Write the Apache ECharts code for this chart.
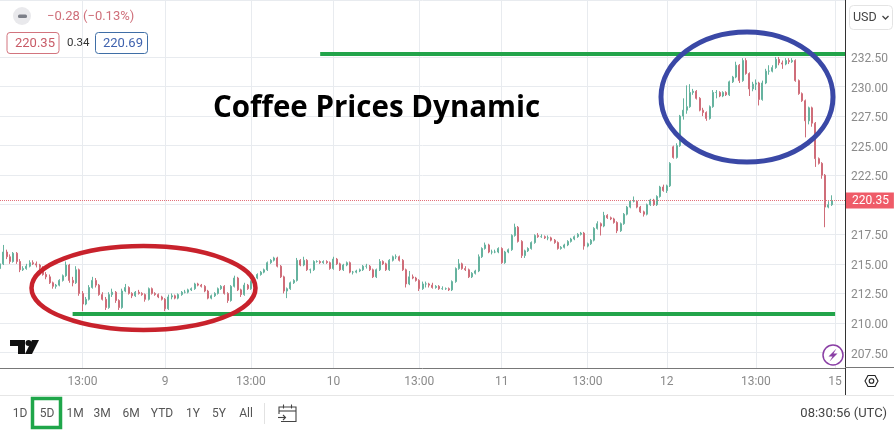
<!DOCTYPE html>
<html><head><meta charset="utf-8">
<style>html,body{margin:0;padding:0;background:#fff}#c{width:894px;height:432px}</style>
<script src="https://cdn.jsdelivr.net/npm/echarts@6/dist/echarts.min.js"></script>
</head><body><div id="c"></div>
<script>
const opens=[214.6,215.0,216.0,215.6,215.2,215.9,215.2,214.5,214.6,214.8,215.1,215.0,214.9,214.7,214.1,213.9,213.4,213.1,213.2,213.6,214.0,214.9,213.6,213.4,214.5,212.5,211.6,212.0,213.0,213.6,213.2,212.4,212.0,211.3,212.4,212.6,211.9,211.3,212.7,213.0,212.5,212.3,212.6,212.5,212.4,212.0,212.9,212.5,212.4,212.2,212.0,211.2,212.2,212.3,212.1,212.4,212.6,212.6,212.8,212.9,213.3,213.2,213.1,212.7,212.1,212.3,212.5,212.9,213.1,212.5,211.9,213.1,213.8,212.8,212.4,213.2,212.9,213.5,213.8,214.1,214.3,214.5,215.1,215.3,215.5,214.8,213.9,212.7,212.9,213.4,213.6,215.3,214.9,215.3,214.5,214.5,215.2,215.2,215.1,215.2,215.1,214.6,215.4,215.0,214.5,214.9,215.1,214.3,214.3,214.4,214.5,214.8,214.8,214.5,213.9,214.5,215.2,215.0,214.5,215.3,215.6,215.6,215.3,214.5,213.3,213.9,213.8,213.6,212.9,213.3,213.3,213.2,213.0,213.1,212.9,212.9,212.9,212.8,213.5,214.6,215.0,214.6,214.5,213.9,214.2,214.4,215.6,216.3,216.6,216.0,216.0,216.0,216.3,215.1,216.0,216.2,217.4,218.1,216.9,215.7,216.1,216.3,216.8,217.4,217.3,217.3,217.2,217.2,217.0,216.8,216.3,216.4,216.6,216.9,217.1,217.3,217.5,217.6,216.5,216.7,217.0,218.0,218.4,218.2,219.1,218.9,218.8,218.5,217.8,218.4,219.2,219.8,220.3,220.3,219.8,219.4,219.2,220.0,220.4,220.0,220.7,221.5,221.2,221.6,224.9,224.0,225.0,227.5,228.0,228.3,229.5,229.6,229.0,228.0,227.8,227.3,228.3,229.5,229.5,229.2,229.5,229.3,230.4,230.8,231.8,230.5,232.2,231.1,229.8,230.2,230.3,228.9,230.3,231.3,231.3,231.6,232.3,232.0,231.9,232.2,232.1,232.2,230.5,229.4,228.8,227.1,228.2,226.9,223.9,223.5,222.5,219.8,220.0];
const closes=[215.0,216.0,215.6,215.2,215.9,215.2,214.5,214.6,214.8,215.1,215.0,214.9,214.7,214.1,213.9,213.4,213.1,213.2,213.6,214.0,214.9,213.6,213.4,214.5,212.5,211.6,212.0,213.0,213.6,213.2,212.4,212.0,211.3,212.4,212.6,211.9,211.3,212.7,213.0,212.5,212.3,212.6,212.5,212.4,212.0,212.9,212.5,212.4,212.2,212.0,211.2,212.2,212.3,212.1,212.4,212.6,212.6,212.8,212.9,213.3,213.2,213.1,212.7,212.1,212.3,212.5,212.9,213.1,212.5,211.9,213.1,213.8,212.8,212.4,213.2,212.9,213.5,213.8,214.1,214.3,214.5,215.1,215.3,215.5,214.8,213.9,212.7,212.9,213.4,213.6,215.3,214.9,215.3,214.5,214.5,215.2,215.2,215.1,215.2,215.1,214.6,215.4,215.0,214.5,214.9,215.1,214.3,214.3,214.4,214.5,214.8,214.8,214.5,213.9,214.5,215.2,215.0,214.5,215.3,215.6,215.6,215.3,214.5,213.3,213.9,213.8,213.6,212.9,213.3,213.3,213.2,213.0,213.1,212.9,212.9,212.9,212.8,213.5,214.6,215.0,214.6,214.5,213.9,214.2,214.4,215.6,216.3,216.6,216.0,216.0,216.0,216.3,215.1,216.0,216.2,217.4,218.1,216.9,215.7,216.1,216.3,216.8,217.4,217.3,217.3,217.2,217.2,217.0,216.8,216.3,216.4,216.6,216.9,217.1,217.3,217.5,217.6,216.5,216.7,217.0,218.0,218.4,218.2,219.1,218.9,218.8,218.5,217.8,218.4,219.2,219.8,220.3,220.3,219.8,219.4,219.2,220.0,220.4,220.0,220.7,221.5,221.2,221.6,223.5,224.0,225.0,227.5,228.0,228.3,229.5,229.6,229.0,228.0,227.8,227.3,228.3,229.5,229.5,229.2,229.5,229.3,230.4,230.8,231.8,230.5,232.2,231.1,229.8,230.2,230.3,228.9,230.3,231.3,231.3,231.6,232.3,232.0,231.9,232.2,232.1,232.2,230.5,229.4,228.8,227.1,228.2,226.9,223.9,223.5,222.5,219.8,220.0,220.35];
const highs=[215.2,216.6,216.2,215.8,216.0,216.0,215.4,214.8,215.0,215.3,215.3,215.2,215.0,214.8,214.3,214.1,213.5,213.3,213.7,214.1,215.2,215.0,213.9,214.8,214.6,212.7,212.2,213.2,213.9,213.8,213.3,212.6,212.2,212.6,212.9,212.7,212.0,212.9,213.3,213.1,212.6,212.7,212.8,212.6,212.5,213.0,213.0,212.6,212.5,212.3,212.1,212.4,212.5,212.4,212.5,212.7,212.8,212.9,213.0,213.4,213.4,213.3,213.2,212.8,212.4,212.6,213.0,213.2,213.2,212.6,213.2,214.0,213.9,212.9,213.4,213.3,213.6,213.9,214.2,214.4,214.6,215.2,215.4,215.6,215.6,214.9,214.0,213.0,213.5,213.7,215.5,215.4,215.6,215.4,214.6,215.3,215.3,215.3,215.3,215.3,215.2,215.6,215.5,215.1,215.0,215.2,215.2,214.4,214.5,214.6,214.9,215.0,214.9,214.6,214.6,215.4,215.3,215.1,215.4,215.7,215.8,215.7,215.4,214.6,214.4,214.1,213.9,213.7,213.5,213.5,213.4,213.4,213.2,213.2,213.1,213.0,213.0,213.6,214.7,215.4,215.1,214.8,214.6,214.3,214.5,215.8,216.4,216.8,216.7,216.2,216.2,216.4,216.4,216.1,216.3,217.5,218.4,218.2,217.0,216.2,216.4,216.9,217.5,217.6,217.5,217.4,217.4,217.3,217.1,216.9,216.5,216.7,217.0,217.2,217.4,217.6,217.7,217.7,216.8,217.1,218.1,218.6,218.5,219.4,219.2,219.0,218.9,218.6,218.5,219.3,219.9,220.4,220.7,220.4,219.9,219.5,220.1,220.5,220.5,220.8,221.6,221.7,221.7,223.6,225.0,225.2,227.6,229.0,230.1,230.2,229.8,229.7,229.1,228.2,227.9,228.4,229.7,229.7,229.6,229.6,229.6,230.5,230.9,232.1,231.9,232.4,232.4,231.2,230.4,230.6,230.4,230.5,231.5,231.8,231.8,232.5,232.5,232.2,232.4,232.4,232.4,232.3,230.6,229.5,228.9,228.3,228.3,227.0,224.0,223.6,222.6,220.3,220.8];
const lows=[213.9,214.9,215.4,215.0,215.1,215.0,214.3,214.4,214.5,214.7,214.9,214.7,214.5,214.0,213.7,213.3,212.9,212.9,213.1,213.5,213.9,213.4,213.1,213.3,212.3,211.0,211.5,211.9,212.9,213.0,212.3,211.9,211.1,211.2,212.2,211.7,211.1,211.2,212.6,212.4,212.1,212.2,212.4,212.3,211.8,211.9,212.4,212.3,212.1,211.9,211.0,211.1,212.0,212.0,212.0,212.3,212.5,212.5,212.7,212.8,213.1,213.0,212.6,212.0,212.0,212.2,212.4,212.8,212.4,211.7,211.8,213.0,212.7,212.2,212.3,212.8,212.8,213.4,213.7,214.0,214.2,214.4,215.0,215.2,214.7,213.8,212.5,212.1,212.8,213.3,213.5,214.8,214.8,214.4,214.2,214.4,215.1,215.0,215.0,215.0,214.5,214.5,214.9,214.4,214.4,214.8,214.2,214.1,214.2,214.3,214.4,214.6,214.4,213.8,213.8,214.4,214.9,214.4,214.4,215.2,215.4,215.2,214.4,213.0,213.2,213.7,213.5,212.7,212.8,213.0,213.0,212.9,212.9,212.8,212.8,212.8,212.7,212.7,213.4,214.5,214.5,214.4,213.8,213.8,214.1,214.3,215.5,216.2,215.9,215.8,215.9,215.9,215.0,215.0,215.9,216.1,217.3,216.8,215.5,215.5,216.0,216.2,216.7,217.2,217.2,217.1,217.0,216.9,216.7,216.2,216.2,216.3,216.5,216.8,217.0,217.2,217.4,216.2,216.4,216.6,216.9,217.9,217.4,218.1,218.8,218.7,218.4,217.6,217.7,218.3,219.1,219.7,220.2,219.7,219.3,219.0,219.1,219.9,219.9,219.9,220.6,221.1,221.0,221.5,223.9,223.9,224.9,227.2,227.7,228.2,229.3,228.9,227.9,227.5,227.1,227.2,228.2,229.0,229.1,229.1,229.2,229.2,230.3,230.7,230.3,230.4,231.0,229.2,229.6,229.7,228.4,228.8,230.2,231.0,231.2,231.5,231.8,231.5,231.8,231.9,232.0,230.4,229.3,228.7,225.7,226.8,226.6,223.2,223.4,222.2,218.1,219.7,219.9];
const yTicks=[207.5,210,212.5,215,217.5,220,222.5,225,227.5,230,232.5];
const yLabels=[207.5,210,212.5,215,217.5,222.5,225,227.5,230,232.5];
const xTickIndex=[25,50,76,101,127,152,178,202,229,253];
const xTickLabels=['13:00','9','13:00','10','13:00','11','13:00','12','13:00','15'];
const slotCount=257;
const lastPrice=220.35;
const resistance=232.75, support=210.76;
const rangeButtons=[['1D',20],['5D',47],['1M',75],['3M',102],['6M',131],['YTD',162],['1Y',193],['5Y',219],['All',246]];

const categories=Array.from({length:slotCount},(_,i)=>String(i));
const candles=opens.map((o,i)=>[o,closes[i],lows[i],highs[i]]);
const isTick=i=>xTickIndex.indexOf(+i)>=0;
const txt=(text,x,y,size,fill,extra)=>({type:'text',z:110,style:Object.assign({text,x,y,fill,font:size+'px Roboto, sans-serif',textVerticalAlign:'middle'},extra||{})});
const seg=(x1,y1,x2,y2,stroke,w)=>({type:'line',z:105,shape:{x1,y1,x2,y2},style:{stroke,lineWidth:w||1}});

const chart=echarts.init(document.getElementById('c'),null,{renderer:'canvas'});
chart.setOption({
 animation:false,
 grid:{left:0,right:49,top:0,bottom:64},
 xAxis:{type:'category',data:categories,boundaryGap:false,
  axisLine:{lineStyle:{color:'#787878'}},axisTick:{show:false},
  axisLabel:{interval:(i)=>isTick(i),formatter:(v)=>xTickLabels[xTickIndex.indexOf(+v)]||'',color:'#8a8a8a',fontFamily:'Roboto',fontSize:12,margin:8},
  splitLine:{show:true,interval:(i)=>isTick(i),lineStyle:{color:'#e8ebef'}}},
 yAxis:{type:'value',position:'right',min:206.19,max:237.32,
  axisLine:{show:true,lineStyle:{color:'#333'}},
  axisTick:{show:false,customValues:yTicks},
  axisLabel:{customValues:yLabels,formatter:(v)=>v.toFixed(2),color:'#8a8a8a',fontFamily:'Roboto',fontSize:12,margin:6,verticalAlign:'top',lineHeight:4},
  splitLine:{show:true,lineStyle:{color:'#e8ebef'}}},
 series:[{type:'candlestick',data:candles,barWidth:1.5,
  itemStyle:{color:'#66b39f',color0:'#d9737f',borderColor:'#66b39f',borderColor0:'#cf6d79',borderWidth:1},
  markLine:{silent:true,symbol:'none',animation:false,data:[
   [{coord:['97',resistance],lineStyle:{color:'#22a44a',width:4,type:'solid'},label:{show:false}},{coord:['256',resistance]}],
   [{coord:['22',support],lineStyle:{color:'#22a44a',width:4,type:'solid'},label:{show:false}},{coord:['253',support]}],
   [{coord:['0',lastPrice],lineStyle:{color:'#e2707a',width:1,type:'dotted'},
     label:{show:true,position:'end',distance:1,formatter:lastPrice.toFixed(2),color:'#fff',backgroundColor:'#ef5b68',padding:[2,5,2,6],fontFamily:'Roboto',fontSize:12}},{coord:['256',lastPrice]}]
  ]}}],
 graphic:[
  {type:'ellipse',z:100,shape:{cx:143.5,cy:288,rx:112,ry:42},style:{fill:'none',stroke:'#c8222c',lineWidth:4.5}},
  {type:'ellipse',z:100,shape:{cx:747,cy:97,rx:86,ry:65},style:{fill:'none',stroke:'#3a48a6',lineWidth:5}},
  {type:'text',z:110,style:{text:'Coffee Prices Dynamic',x:213,y:109,fill:'#000',font:'bold 29.5px "Open Sans", sans-serif',textVerticalAlign:'middle'}},
  // header
  {type:'circle',z:110,shape:{cx:22,cy:16,r:9},style:{fill:'#e9e9ec'}},
  {type:'rect',z:111,shape:{x:18,y:14.5,width:9,height:3.5,r:1.5},style:{fill:'#7c7f88'}},
  txt('\u22120.28 (\u22120.13%)',47,17,13,'#cf6f7a'),
  {type:'rect',z:110,shape:{x:7,y:32.5,width:52,height:21,r:3},style:{fill:'#fff',stroke:'#d2747e'}},
  txt('220.35',15,43.5,13,'#c85a66'),
  txt('0.34',67,43.5,11.5,'#333'),
  {type:'rect',z:110,shape:{x:95.5,y:32.5,width:52,height:21,r:3},style:{fill:'#fff',stroke:'#3f6ea6'}},
  txt('220.69',103,43.5,13,'#3f62ae'),
  // axis and toolbar frame
  seg(845.5,368,845.5,395,'#333'),
  seg(845,367.5,894,367.5,'#787878'),
  seg(0,395.5,894,395.5,'#e6e6e6'),
  seg(0,0.5,845,0.5,'#e8ebef'),
  // currency selector
  {type:'rect',z:110,shape:{x:849.5,y:5.5,width:43,height:24,r:4},style:{fill:'#fff',stroke:'#e4e4e4'}},
  txt('USD',853,18,12.5,'#444'),
  {type:'polyline',z:110,shape:{points:[[882.5,16],[885.5,19],[888.5,16]]},style:{fill:'none',stroke:'#444',lineWidth:1.3}},
  // logo
  {type:'polygon',z:110,shape:{points:[[10,340],[25,340],[25,354],[18,354],[18,346],[10,346]]},style:{fill:'#111'}},
  {type:'circle',z:110,shape:{cx:28.5,cy:343,r:3},style:{fill:'#111'}},
  {type:'polygon',z:110,shape:{points:[[32,340],[39,340],[32,354],[25,354]]},style:{fill:'#111'}},
  // lightning badge
  {type:'circle',z:110,shape:{cx:833,cy:355,r:10},style:{fill:'#fff',stroke:'#8a3fa5',lineWidth:1.5}},
  {type:'polygon',z:111,shape:{points:[[836.5,348.5],[828.5,356.5],[832.5,356.5],[829.5,361.5],[837.5,353.5],[833.5,353.5]]},style:{fill:'#8a3fa5'}},
  // settings icon
  {type:'polygon',z:110,shape:{points:[[865,381],[868,375.5],[875,375.5],[878,381],[875,386.5],[868,386.5]]},style:{fill:'none',stroke:'#222',lineWidth:1.1}},
  {type:'circle',z:110,shape:{cx:871.5,cy:381,r:2.3},style:{fill:'none',stroke:'#222',lineWidth:1.1}},
  // range bar
  ...rangeButtons.map(([t,x])=>txt(t,x,414,12,'#555',{textAlign:'center'})),
  {type:'rect',z:110,shape:{x:32.5,y:398.5,width:28,height:29},style:{fill:'none',stroke:'#1fa64a',lineWidth:3.5}},
  seg(264.5,403,264.5,424,'#e2e2e2'),
  {type:'polyline',z:110,shape:{points:[[281,421.5],[296,421.5],[296,407],[279,407],[279,414]]},style:{fill:'none',stroke:'#444',lineWidth:1.1}},
  seg(279,411,296,411,'#444',1.1),seg(283.5,404.5,283.5,408.5,'#444',1.1),seg(291.5,404.5,291.5,408.5,'#444',1.1),
  {type:'polyline',z:110,shape:{points:[[278,417.5],[285,417.5]]},style:{fill:'none',stroke:'#444',lineWidth:1.1}},
  {type:'polyline',z:110,shape:{points:[[283,415],[285.5,417.5],[283,420]]},style:{fill:'none',stroke:'#444',lineWidth:1.1}},
  txt('08:30:56 (UTC)',887,413.5,13,'#444',{textAlign:'right'})
 ]
});
</script></body></html>
